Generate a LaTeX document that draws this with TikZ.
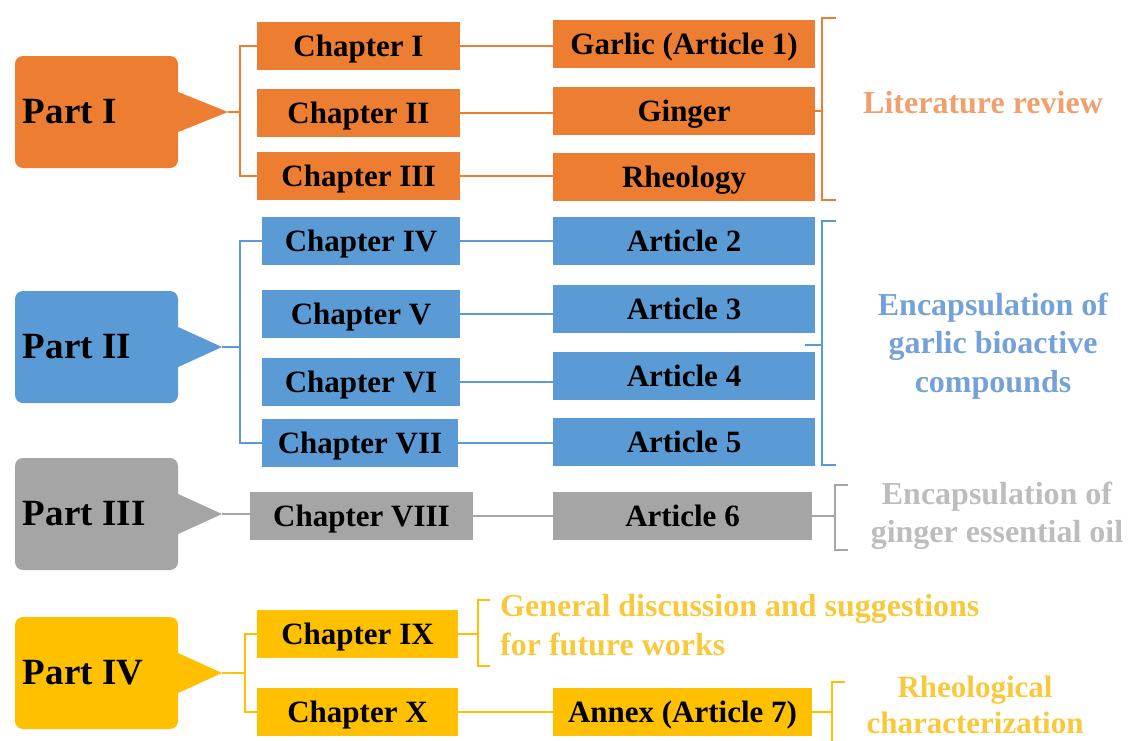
\documentclass[tikz,border=0pt]{standalone}
\usepackage{fontspec}
\setmainfont{Liberation Serif}
\definecolor{cor}{HTML}{ED7D31}
\definecolor{cbl}{HTML}{5B9BD5}
\definecolor{cgr}{HTML}{A5A5A5}
\definecolor{cgo}{HTML}{FFC000}
\definecolor{lor}{HTML}{EFA06C}
\definecolor{lbl}{HTML}{74A2D8}
\definecolor{lgr}{HTML}{BDBDBD}
\definecolor{lgo}{HTML}{F8C93A}
\begin{document}
\begin{tikzpicture}[x=1pt,y=-1pt,
  partbox/.style={fill=#1, rounded corners=8pt, minimum height=112pt, text width=147pt, inner xsep=8pt, inner ysep=0pt, align=left, text=black, font=\fontsize{37}{40}\selectfont\bfseries},
  box/.style={fill=#1, minimum height=48pt, inner sep=0pt, text height=21pt, text depth=0pt, text=black, font=\fontsize{31}{34}\selectfont\bfseries},
  conn/.style={draw=#1, line width=1.5pt},
  brk/.style={draw=#1, line width=2pt},
  label/.style={text=#1, align=center, inner sep=0pt, font=\fontsize{32}{38.5}\selectfont\bfseries},
]
\useasboundingbox (0,0) rectangle (1129,740);

% ---------- Part I ----------
\node[partbox=cor] (p1) at (96.5,112) {Part\hspace{-0.08em} I};
\coordinate (t1) at (228,112);
\fill[cor] ([yshift=-20pt]p1.east) -- (t1) -- ([yshift=20pt]p1.east) -- cycle;
\node[box=cor, minimum width=203pt] (c1) at (358.5,46) {Chapter I};
\node[box=cor, minimum width=203pt] (c2) at (358.5,113) {Chapter II};
\node[box=cor, minimum width=203pt] (c3) at (358.5,176) {Chapter III};
\node[box=cor, minimum width=262pt] (a1) at (684,44) {Garlic (Article 1)};
\node[box=cor, minimum width=262pt] (a2) at (684,111) {Ginger};
\node[box=cor, minimum width=262pt] (a3) at (684,177) {Rheology};
\coordinate (b1) at (240,112);
\draw[conn=cor] (t1) -- (b1);
\draw[conn=cor] (c1.west) -- (c1.west -| b1) -- (c3.west -| b1) -- (c3.west);
\draw[conn=cor] (c1.east) -- (c1.east -| a1.west);
\draw[conn=cor] (c2.east) -- (c2.east -| a2.west);
\draw[conn=cor] (c3.east) -- (c3.east -| a3.west);
\coordinate (r1) at (822,111);
\draw[brk=cor] (836,18) -- (822,18) -- (822,200) -- (836,200);
\draw[brk=cor] (a2.east) -- (r1);
\node[label=lor] (l1) at (983,103) {Literature review};

% ---------- Part II ----------
\node[partbox=cbl] (p2) at (96.5,347) {Part\hspace{-0.08em} II};
\coordinate (t2) at (222,347);
\fill[cbl] ([yshift=-20pt]p2.east) -- (t2) -- ([yshift=20pt]p2.east) -- cycle;
\node[box=cbl, minimum width=198pt] (c4) at (361,241) {Chapter IV};
\node[box=cbl, minimum width=198pt] (c5) at (361,314) {Chapter V};
\node[box=cbl, minimum width=198pt] (c6) at (361,382) {Chapter VI};
\node[box=cbl, minimum width=196pt] (c7) at (360,443) {Chapter VII};
\node[box=cbl, minimum width=262pt] (a4) at (684,241) {Article 2};
\node[box=cbl, minimum width=262pt] (a5) at (684,309) {Article 3};
\node[box=cbl, minimum width=262pt] (a6) at (684,376) {Article 4};
\node[box=cbl, minimum width=262pt] (a7) at (684,442) {Article 5};
\coordinate (b2) at (240,347);
\draw[conn=cbl] (t2) -- (b2);
\draw[conn=cbl] (c4.west) -- (c4.west -| b2) -- (c7.west -| b2) -- (c7.west);
\draw[conn=cbl] (c4.east) -- (c4.east -| a4.west);
\draw[conn=cbl] (c5.east) -- (c5.east -| a5.west);
\draw[conn=cbl] (c6.east) -- (c6.east -| a6.west);
\draw[conn=cbl] (c7.east) -- (c7.east -| a7.west);
\coordinate (r2) at (822,345);
\draw[brk=cbl] (836,221) -- (822,221) -- (822,465) -- (836,465);
\draw[brk=cbl] (805,345) -- (r2);
\node[label=lbl] (l2) at (993,346) {Encapsulation of\\garlic bioactive\\compounds};

% ---------- Part III ----------
\node[partbox=cgr] (p3) at (96.5,514) {Part\hspace{-0.08em} III};
\coordinate (t3) at (222,514);
\fill[cgr] ([yshift=-20pt]p3.east) -- (t3) -- ([yshift=20pt]p3.east) -- cycle;
\node[box=cgr, minimum width=223pt] (c8) at (361.5,516) {Chapter VIII};
\node[box=cgr, minimum width=259pt] (a8) at (682.5,516) {Article 6};
\draw[conn=cgr] (t3) -- (t3 -| c8.west);
\draw[conn=cgr] (c8.east) -- (a8.west);
\coordinate (r3) at (835,516);
\draw[brk=cgr] (848,485) -- (835,485) -- (835,550) -- (848,550);
\draw[brk=cgr] (a8.east) -- (r3);
\node[label=lgr] (l3) at (997,516) {Encapsulation of\\ginger essential oil};

% ---------- Part IV ----------
\node[partbox=cgo] (p4) at (96.5,673) {Part\hspace{-0.08em} IV};
\coordinate (t4) at (222,673);
\fill[cgo] ([yshift=-20pt]p4.east) -- (t4) -- ([yshift=20pt]p4.east) -- cycle;
\node[box=cgo, minimum width=201pt] (c9) at (357.5,634) {Chapter IX};
\node[box=cgo, minimum width=201pt] (c10) at (357.5,712) {Chapter X};
\node[box=cgo, minimum width=259pt] (a9) at (682.5,712) {Annex (Article 7)};
\coordinate (b4) at (245,673);
\draw[conn=cgo] (t4) -- (b4);
\draw[conn=cgo] (c9.west) -- (c9.west -| b4) -- (c10.west -| b4) -- (c10.west);
\draw[conn=cgo] (c10.east) -- (a9.west);
\coordinate (r4) at (478,634);
\draw[brk=cgo] (490,600) -- (478,600) -- (478,666) -- (490,666);
\draw[brk=cgo] (c9.east) -- (r4);
\node[label=lgo, align=left, anchor=west] (l4) at (500,625) {General discussion and suggestions\\for future works};
\coordinate (r5) at (832,712);
\draw[brk=cgo] (845,682) -- (832,682) -- (832,750);
\draw[brk=cgo] (a9.east) -- (r5);
\node[label=lgo, font=\fontsize{31}{36}\selectfont\bfseries] (l5) at (975,705) {Rheological\\characterization};
\end{tikzpicture}
\end{document}
